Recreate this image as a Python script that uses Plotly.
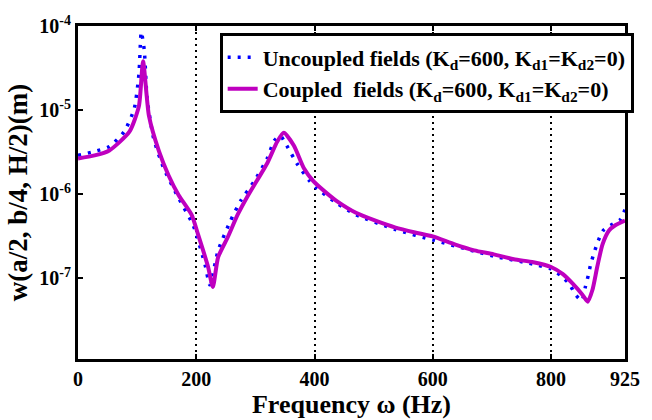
import plotly.graph_objects as go

# Frequency (Hz) and response w (m)
freq_coupled = [0, 28, 53, 87, 103, 110, 120, 137, 153, 170, 192, 203, 220, 228, 237, 253, 270, 287,
                303, 320, 337, 348, 365, 382, 398, 420, 437, 470, 503, 537, 570, 600, 637, 670, 703,
                737, 770, 800, 820, 837, 853, 862, 870, 878, 887, 898, 908, 925]
w_coupled = [2.65e-6, 2.88e-6, 3.30e-6, 5.51e-6, 1.11e-5, 3.80e-5, 8.49e-6, 3.21e-6, 1.67e-6, 9.73e-7,
             5.66e-7, 3.30e-7, 1.35e-7, 7.83e-8, 1.77e-7, 3.03e-7, 5.66e-7, 9.46e-7,
             1.46e-6, 2.32e-6, 4.21e-6, 5.36e-6, 3.77e-6, 2.02e-6, 1.42e-6, 1.03e-6, 8.28e-7, 5.97e-7,
             4.81e-7, 3.98e-7, 3.48e-7, 3.12e-7, 2.51e-7, 2.13e-7, 1.91e-7,
             1.67e-7, 1.54e-7, 1.35e-7, 1.11e-7, 8.49e-8, 6.31e-8, 5.22e-8, 7.23e-8, 1.35e-7, 2.51e-7,
             3.67e-7, 4.21e-7, 4.81e-7]

freq_uncoupled = [0, 28, 53, 78, 95, 103, 107, 112, 117, 128, 145, 170, 195, 215, 223, 237, 258, 275,
                  298, 320, 332, 342, 353, 370, 392, 403, 437, 470, 537, 603, 703, 770, 800, 817, 832,
                  840, 852, 858, 863, 867, 873, 880, 888, 903, 917, 925]
w_uncoupled = [2.88e-6, 3.21e-6, 3.67e-6, 5.51e-6, 1.03e-5, 2.65e-5, 8.49e-5, 5.22e-5, 1.35e-5, 4.56e-6,
               2.02e-6, 8.97e-7, 4.21e-7, 1.42e-7, 8.28e-8, 2.13e-7, 4.81e-7, 8.28e-7,
               1.42e-6, 2.65e-6, 4.32e-6, 4.94e-6, 3.77e-6, 2.32e-6, 1.42e-6, 1.18e-6, 7.83e-7, 5.66e-7,
               3.77e-7, 2.80e-7, 1.82e-7, 1.46e-7, 1.28e-7, 1.06e-7, 8.28e-8,
               6.49e-8, 5.36e-8, 7.83e-8, 1.08e-7, 1.46e-7, 2.02e-7, 2.80e-7, 3.67e-7, 4.32e-7, 4.94e-7,
               6.49e-7]

x_ticks = [0, 200, 400, 600, 800, 925]
y_ticks = [1e-7, 1e-6, 1e-5, 1e-4]
y_ticktext = ["10<sup>-7</sup>", "10<sup>-6</sup>", "10<sup>-5</sup>", "10<sup>-4</sup>"]

FONT = "Liberation Serif"

fig = go.Figure()
fig.add_trace(go.Scatter(
    x=freq_uncoupled, y=w_uncoupled, mode="lines", legendgroup="a",
    name="Uncoupled fields (K<sub>d</sub>=600, K<sub>d1</sub>=K<sub>d2</sub>=0)",
    line=dict(color="#0000FF", width=3.5, dash="3px,7px", shape="spline", smoothing=0.6),
))
fig.add_trace(go.Scatter(
    x=freq_coupled, y=w_coupled, mode="lines", legendgroup="b",
    name="Coupled  fields (K<sub>d</sub>=600, K<sub>d1</sub>=K<sub>d2</sub>=0)",
    line=dict(color="#BF00BF", width=4, shape="spline", smoothing=0.6),
))

fig.update_layout(
    width=652, height=420,
    margin=dict(l=78, r=19, t=26, b=58),
    paper_bgcolor="white", plot_bgcolor="white",
    font=dict(family=FONT, color="black", size=20, weight="bold"),
    showlegend=True,
    legend=dict(
        x=0.259, y=0.978, xanchor="left", yanchor="top",
        bordercolor="black", borderwidth=3, bgcolor="white",
        font=dict(family=FONT, size=22, color="black", weight="bold"),
        tracegroupgap=0, itemwidth=30,
    ),
)

fig.update_xaxes(
    range=[0, 925], tickmode="array", tickvals=x_ticks,
    ticks="inside", ticklen=5, tickwidth=2, tickcolor="black",
    showline=True, linecolor="black", linewidth=3, mirror="ticks",
    showgrid=True, gridcolor="black", griddash="2px,4px", gridwidth=1.6,
    zeroline=False,
    tickfont=dict(family=FONT, size=20, color="black", weight="bold"),
    title=dict(text="Frequency ω (Hz)", font=dict(family=FONT, size=26, color="black", weight="bold"),
               standoff=0),
)
fig.update_yaxes(
    type="log", range=[-7.965, -4], tickmode="array", tickvals=y_ticks, ticktext=y_ticktext,
    ticks="inside", ticklen=5, tickwidth=2, tickcolor="black",
    showline=True, linecolor="black", linewidth=3, mirror="ticks",
    showgrid=False, zeroline=False,
    tickfont=dict(family=FONT, size=20, color="black", weight="bold"),
    title=dict(text="w(a/2, b/4, H/2)(m)", font=dict(family=FONT, size=27, color="black", weight="bold"),
               standoff=4),
)

fig.write_html("out.html")
